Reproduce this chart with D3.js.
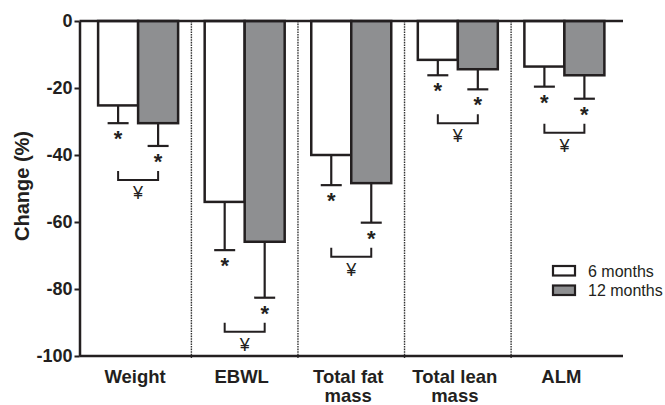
<!DOCTYPE html>
<html>
<head>
<meta charset="utf-8">
<script src="https://cdn.jsdelivr.net/npm/d3@7"></script>
<style>
  html, body { margin: 0; padding: 0; background: #fff; }
  svg { display: block; }
  text { font-family: "Liberation Sans", Arial, sans-serif; fill: #231f20; }
</style>
</head>
<body>
<svg id="chart" width="665" height="405"></svg>
<script>
// Body composition change (%) at 6 and 12 months
const categories = ["Weight", "EBWL", "Total fat mass", "Total lean mass", "ALM"];
const categoryLines = [["Weight"], ["EBWL"], ["Total fat", "mass"], ["Total lean", "mass"], ["ALM"]];
const series = ["6 months", "12 months"];
const values6 = [-25.2, -54.0, -40.0, -11.6, -13.6];
const values12 = [-30.5, -65.9, -48.4, -14.4, -16.2];
const err6 = [5.3, 14.4, 9.0, 4.6, 6.0];
const err12 = [6.8, 16.7, 11.8, 6.0, 7.0];
const yTicks = [0, -20, -40, -60, -80, -100];
const yDomain = [-100, 0];

const ink = "#231f20";
const fills = ["#ffffff", "#8e8f91"];

const svg = d3.select("#chart");
const plotLeft = 79.5, plotRight = 623, plotTop = 21, plotBottom = 356;

const y = d3.scaleLinear().domain(yDomain).range([plotBottom, plotTop]);
const x = d3.scaleBand().domain(categories).range([plotLeft, plotRight]).paddingInner(0).paddingOuter(0.05);
const xs = d3.scaleBand().domain(series).range([-40, 40]);

const rows = [];
categories.forEach((c, i) => {
  rows.push({ cat: c, s: series[0], v: values6[i], e: err6[i], fill: fills[0] });
  rows.push({ cat: c, s: series[1], v: values12[i], e: err12[i], fill: fills[1] });
});
const cx = d => x(d.cat) + x.bandwidth() / 2 + xs(d.s) + xs.bandwidth() / 2;

// dotted separators between groups
svg.append("g").selectAll("line")
  .data(categories.slice(0, -1))
  .join("line")
  .attr("x1", d => x(d) + x.step()).attr("x2", d => x(d) + x.step())
  .attr("y1", y(0)).attr("y2", y(-100) + 3)
  .attr("stroke", "#333").attr("stroke-width", 1.4)
  .attr("stroke-dasharray", "1.6,1");

// error bars (downward only)
const eg = svg.append("g").attr("stroke", ink).attr("stroke-width", 2.2);
eg.selectAll("line.stem").data(rows).join("line").attr("class", "stem")
  .attr("x1", cx).attr("x2", cx)
  .attr("y1", d => y(d.v)).attr("y2", d => y(d.v - d.e));
eg.selectAll("line.cap").data(rows).join("line").attr("class", "cap")
  .attr("x1", d => cx(d) - 10.5).attr("x2", d => cx(d) + 10.5)
  .attr("y1", d => y(d.v - d.e)).attr("y2", d => y(d.v - d.e));

// bars
svg.append("g").selectAll("rect").data(rows).join("rect")
  .attr("x", d => x(d.cat) + x.bandwidth() / 2 + xs(d.s))
  .attr("width", xs.bandwidth())
  .attr("y", y(0))
  .attr("height", d => y(d.v) - y(0))
  .attr("fill", d => d.fill)
  .attr("stroke", ink).attr("stroke-width", 2.5);

// significance asterisks below each error bar
svg.append("g").selectAll("text").data(rows).join("text")
  .attr("x", cx)
  .attr("y", d => y(d.v - d.e) + 23)
  .attr("text-anchor", "middle")
  .attr("font-size", 22).attr("font-weight", "bold")
  .text("*");

// between-timepoint brackets with ¥ marker
const br = categories.map((c, i) => {
  const a = cx({ cat: c, s: series[0] });
  const b = cx({ cat: c, s: series[1] });
  const t = y(values12[i] - err12[i]) + 25;
  return { a, b, t, bt: t + 9 };
});
svg.append("g").selectAll("path").data(br).join("path")
  .attr("d", d => `M${d.a},${d.t}V${d.bt}H${d.b}V${d.t}`)
  .attr("fill", "none").attr("stroke", ink).attr("stroke-width", 2);
svg.append("g").selectAll("text").data(br).join("text")
  .attr("x", d => (d.a + d.b) / 2)
  .attr("y", d => d.bt + 19)
  .attr("text-anchor", "middle")
  .attr("font-size", 18)
  .text("¥");

// zero line and bottom axis
svg.append("line").attr("x1", plotLeft).attr("x2", plotRight).attr("y1", y(0)).attr("y2", y(0))
  .attr("stroke", ink).attr("stroke-width", 2.5);
svg.append("line").attr("x1", plotLeft).attr("x2", plotRight).attr("y1", y(-100)).attr("y2", y(-100))
  .attr("stroke", ink).attr("stroke-width", 2.5);

// y axis
const ya = svg.append("g").attr("transform", `translate(${plotLeft},0)`)
  .call(d3.axisLeft(y).tickValues(yTicks).tickSize(5).tickSizeOuter(0).tickPadding(2).tickFormat(d3.format("d")));
ya.select(".domain").attr("stroke", ink).attr("stroke-width", 2.5);
ya.selectAll(".tick line").attr("stroke", ink).attr("stroke-width", 2);
ya.selectAll(".tick text")
  .attr("font-family", "'Liberation Sans', Arial, sans-serif")
  .attr("font-size", 18).attr("font-weight", "bold").attr("fill", ink)
  .text(d => d === 0 ? "0" : "-" + Math.abs(d));

// y axis title
svg.append("text")
  .attr("transform", "translate(29,186) rotate(-90)")
  .attr("text-anchor", "middle")
  .attr("font-size", 20).attr("font-weight", "bold")
  .text("Change (%)");

// category labels
const lg = svg.append("g").selectAll("text").data(categories).join("text")
  .attr("x", d => x(d) + x.bandwidth() / 2 - 3)
  .attr("y", 383)
  .attr("text-anchor", "middle")
  .attr("font-size", 18.5).attr("font-weight", "bold");
lg.selectAll("tspan").data((d, i) => categoryLines[i]).join("tspan")
  .attr("x", function() { return this.parentNode.getAttribute("x"); })
  .attr("dy", (d, j) => j === 0 ? 0 : 19)
  .text(d => d);

// legend
const leg = svg.append("g").attr("transform", "translate(553,266)");
series.forEach((s, i) => {
  leg.append("rect").attr("x", 0).attr("y", i * 19.5).attr("width", 22).attr("height", 9.5)
    .attr("fill", fills[i]).attr("stroke", ink).attr("stroke-width", 2.2);
  leg.append("text").attr("x", 35).attr("y", i * 19.5 + 10.5)
    .attr("font-size", 16).text(s);
});
</script>
</body>
</html>
